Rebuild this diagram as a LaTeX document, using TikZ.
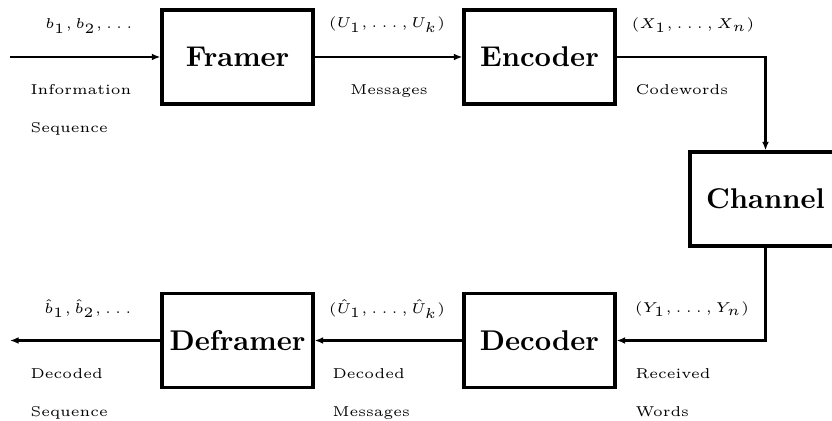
\documentclass[tikz,border=0pt]{standalone}
\usetikzlibrary{arrows.meta}
\begin{document}
\begin{tikzpicture}[x=0.35pt,y=-0.35pt,
  blockbox/.style={draw,line width=1.1pt,minimum width=52.85pt,minimum height=32.9pt,
    inner sep=0pt,font=\normalsize\bfseries},
  conn/.style={line width=1pt,-{Latex[length=3pt,width=2.4pt]}},
  lab/.style={font=\tiny,inner sep=0pt}]
\clip (0,0) rectangle (832,421);

% processing blocks
\node[blockbox] (framer)   at (237.5,57)  {Framer};
\node[blockbox] (encoder)  at (539.5,57)  {Encoder};
\node[blockbox] (channel)  at (765.5,199) {Channel};
\node[blockbox] (decoder)  at (539.5,340.5) {Decoder};
\node[blockbox] (deframer) at (237.5,340.5) {Deframer};

% free ends of the chain
\coordinate (src)  at (10,57);
\coordinate (sink) at (10,340.5);

% connectors
\draw[conn] (src) -- (framer.west);
\draw[conn] (framer.east) -- (encoder.west);
\draw[conn] (encoder.east) -| (channel.north);
\draw[conn] (channel.south) |- (decoder.east);
\draw[conn] (decoder.west) -- (deframer.east);
\draw[conn] (deframer.west) -- (sink);

% signal labels, upper row
\node[lab] (lb)   at (89,26)  {$b_1,b_2,\ldots$};
\node[lab,anchor=base west] (linfo) at (30,95)  {Information};
\node[lab,anchor=base west] (lseq)  at (30,133) {Sequence};
\node[lab] (lu)   at (387,25) {$(U_1,\ldots,U_k)$};
\node[lab,anchor=base] (lmsg) at (389,95) {Messages};
\node[lab] (lx)   at (693,25) {$(X_1,\ldots,X_n)$};
\node[lab,anchor=base west] (lcw) at (635,95) {Codewords};

% signal labels, lower row
\node[lab] (lbh)  at (88,309) {$\hat b_1,\hat b_2,\ldots$};
\node[lab,anchor=base west] (ldec1) at (30,379) {Decoded};
\node[lab,anchor=base west] (ldseq) at (30,417) {Sequence};
\node[lab] (luh)  at (387,309) {$(\hat U_1,\ldots,\hat U_k)$};
\node[lab,anchor=base west] (ldec2) at (332,379) {Decoded};
\node[lab,anchor=base west] (ldmsg) at (332,417) {Messages};
\node[lab] (ly)   at (692,309) {$(Y_1,\ldots,Y_n)$};
\node[lab,anchor=base west] (lrec) at (635,379) {Received};
\node[lab,anchor=base west] (lwords) at (635,417) {Words};
\end{tikzpicture}
\end{document}
